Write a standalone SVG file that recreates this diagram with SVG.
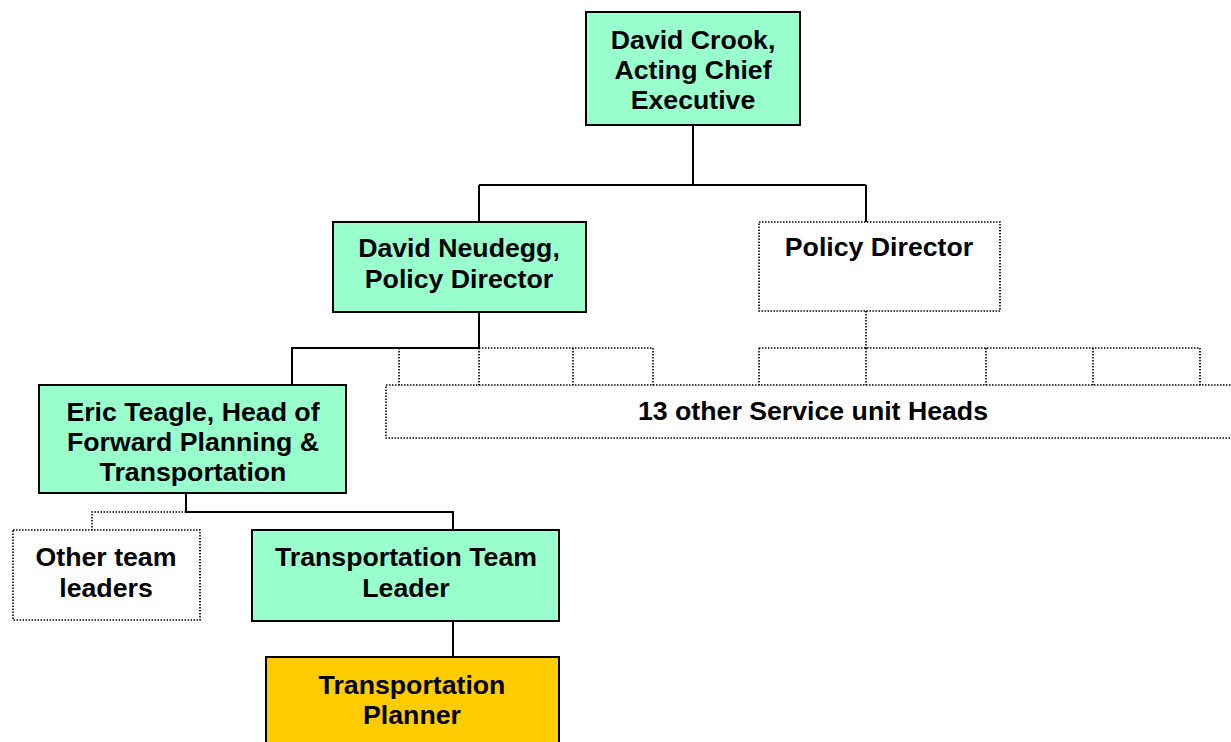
<svg xmlns="http://www.w3.org/2000/svg" width="1231" height="742" viewBox="0 0 1231 742">
  <style>
    .box { fill: #99FFCC; stroke: #000; stroke-width: 2; }
    .post { fill: #FFCC00; stroke: #000; stroke-width: 2; }
    .vacant { fill: #fff; stroke: #000; stroke-width: 1.6; stroke-dasharray: 1.5 1.5; }
    .solid { fill: none; stroke: #000; stroke-width: 2; }
    .dot { fill: none; stroke: #000; stroke-width: 1.6; stroke-dasharray: 1.5 1.5; }
    text { font-family: "Liberation Sans", Arial, sans-serif; font-weight: bold; font-size: 26.7px; fill: #000; text-anchor: middle; }
  </style>
  <rect width="1231" height="742" fill="#fff"/>

  <g id="connectors">
    <path class="solid" d="M693 125 V185 M479 185 H866 M479 185 V222 M866 185 V222"/>
    <path class="solid" d="M479 312 V348 H292 V385"/>
    <path class="dot" d="M866 311 V348"/>
    <path class="dot" d="M479 348 H653 M399 348 V385 M479 348 V385 M573 348 V385 M653 348 V385"/>
    <path class="dot" d="M759 348 H1200 M759 348 V385 M866 348 V385 M986 348 V385 M1093 348 V385 M1200 348 V385"/>
    <path class="solid" d="M186 493 V512 H453 V530"/>
    <path class="dot" d="M186 512 H92 V530"/>
    <path class="solid" d="M453 621 V657"/>
  </g>

  <g id="chief-executive">
    <rect class="box" x="586" y="12" width="214" height="113"/>
    <text x="693" y="49">David Crook,</text>
    <text x="693" y="79">Acting Chief</text>
    <text x="693" y="109">Executive</text>
  </g>

  <g id="policy-director-neudegg">
    <rect class="box" x="333" y="222" width="253" height="90"/>
    <text x="459" y="257">David Neudegg,</text>
    <text x="459" y="288">Policy Director</text>
  </g>

  <g id="policy-director">
    <rect class="vacant" x="759" y="222" width="241" height="89"/>
    <text x="879" y="256">Policy Director</text>
  </g>

  <g id="service-unit-heads">
    <rect class="vacant" x="386" y="385" width="850" height="53"/>
    <text x="813" y="420">13 other Service unit Heads</text>
  </g>

  <g id="head-forward-planning">
    <rect class="box" x="39" y="385" width="307" height="108"/>
    <text x="193" y="421">Eric Teagle, Head of</text>
    <text x="193" y="451">Forward Planning &amp;</text>
    <text x="193" y="481">Transportation</text>
  </g>

  <g id="other-team-leaders">
    <rect class="vacant" x="13" y="530" width="187" height="90"/>
    <text x="106" y="566">Other team</text>
    <text x="106" y="597">leaders</text>
  </g>

  <g id="transportation-team-leader">
    <rect class="box" x="252" y="530" width="307" height="91"/>
    <text x="406" y="566">Transportation Team</text>
    <text x="406" y="597">Leader</text>
  </g>

  <g id="transportation-planner">
    <rect class="post" x="266" y="657" width="293" height="100"/>
    <text x="412" y="694">Transportation</text>
    <text x="412" y="724">Planner</text>
  </g>
</svg>
